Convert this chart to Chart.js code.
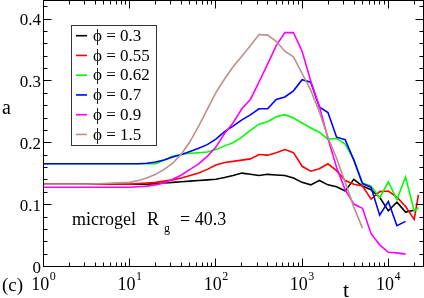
<!DOCTYPE html>
<html>
<head>
<meta charset="utf-8">
<script src="https://cdn.jsdelivr.net/npm/chart.js@4.4.0/dist/chart.umd.min.js"></script>
<style>
  html, body { margin: 0; padding: 0; background: #fff; }
  #wrap { position: relative; width: 424px; height: 298px; }
  #myChart { position: absolute; left: 0; top: 0; }
  #overlay { position: absolute; left: 0; top: 0; width: 424px; height: 298px; pointer-events: none; }
  .lbl { position: absolute; white-space: nowrap; font-family: 'Liberation Serif'; color: #000; }
  .sup { font-size: 12px; line-height: 0; position: relative; top: -10px; margin-left: 0.5px; }
</style>
</head>
<body>
<div id="wrap">
  <canvas id="myChart" width="424" height="298"></canvas>
  <div id="overlay"></div>
</div>
<script>
// Data: a(t) for several packing fractions

// time points (log spaced)
const times = [1, 3.16, 10, 12.6, 15.8, 20, 25.1, 31.6, 39.8, 50.1, 63.1, 79.4,
  100, 126, 158, 200, 251, 316, 398, 501, 631, 794,
  1000, 1259, 1585, 1995, 2512, 3162, 3981, 5012, 6310, 7943,
  10000, 12589, 15849, 19953, 22387];

const phiLabels = ['0.3', '0.55', '0.62', '0.7', '0.9', '1.5'];
const colors = ['#000000', '#ff0000', '#00ff00', '#0000ff', '#ff00ff', '#bc8f8f'];

const phi03 = [0.133, 0.133, 0.133, 0.133, 0.133, 0.134, 0.135, 0.136, 0.137, 0.138,
  0.139, 0.140, 0.141, 0.144, 0.147, 0.151, 0.149, 0.147, 0.149, 0.148,
  0.147, 0.143, 0.136, 0.132, 0.139, 0.132, 0.129, 0.122, 0.141, 0.130,
  0.124, 0.112, 0.090, 0.104, 0.088, 0.091, null];
const phi055 = [0.133, 0.133, 0.133, 0.134, 0.135, 0.136, 0.138, 0.140, 0.143, 0.147,
  0.151, 0.157, 0.164, 0.168, 0.170, 0.172, 0.174, 0.181, 0.180, 0.184,
  0.189, 0.184, 0.162, 0.154, 0.158, 0.166, 0.155, 0.139, 0.133, 0.130,
  0.109, 0.121, 0.122, 0.112, 0.097, 0.076, 0.116];
const phi062 = [0.166, 0.166, 0.166, 0.166, 0.166, 0.166, 0.172, 0.178, 0.181, 0.183,
  0.184, 0.185, 0.189, 0.195, 0.200, 0.209, 0.220, 0.230, 0.234, 0.242,
  0.2455, 0.240, 0.232, 0.224, 0.217, 0.206, 0.207, 0.198, 0.173, 0.135,
  0.130, 0.111, 0.137, 0.108, 0.145, 0.090, 0.095];
const phi07 = [0.166, 0.166, 0.166, 0.166, 0.167, 0.169, 0.172, 0.177, 0.181, 0.186,
  0.191, 0.197, 0.206, 0.218, 0.227, 0.237, 0.245, 0.255, 0.255, 0.270,
  0.274, 0.284, 0.302, 0.298, 0.258, 0.249, 0.209, 0.205, 0.172, 0.134,
  0.128, 0.083, 0.105, 0.066, 0.073, null, null];
const phi09 = [0.128, 0.128, 0.128, 0.129, 0.130, 0.132, 0.135, 0.141, 0.148, 0.157,
  0.166, 0.178, 0.193, 0.215, 0.232, 0.255, 0.270, 0.298, 0.327, 0.357,
  0.378, 0.378, 0.348, 0.300, 0.259, 0.207, 0.160, 0.124, 0.101, 0.094,
  0.053, 0.035, 0.023, 0.022, 0.020, null, null];
const phi15 = [0.133, 0.133, 0.136, 0.139, 0.143, 0.149, 0.157, 0.167, 0.182, 0.202,
  0.227, 0.254, 0.281, 0.303, 0.323, 0.340, 0.357, 0.375, 0.374, 0.364,
  0.348, 0.339, 0.312, 0.285, 0.250, 0.209, 0.175, 0.136, 0.096, 0.062,
  null, null, null, null, null, null, null];

const series = [phi03, phi055, phi062, phi07, phi09, phi15];

// axis ticks
const xTickExponents = ['0', '1', '2', '3', '4'];
const yTickValues = [0, 0.1, 0.2, 0.3, 0.4];
const yTickLabels = ['0', '0.1', '0.2', '0.3', '0.4'];

// legend rows
const legendTop = 35.7;
const legendStep = 19.75;

const datasets = series.map((vals, i) => ({
  label: '\u03d5 = ' + phiLabels[i],
  data: times.map((t, k) => ({ x: t, y: vals[k] })),
  borderColor: colors[i],
  backgroundColor: colors[i],
  borderWidth: 1.6,
  pointRadius: 0,
  tension: 0,
  fill: false,
  order: series.length - i
}));

// frame, inward ticks, legend box and samples (text goes in the overlay)
const decorations = {
  id: 'decorations',
  afterDraw(chart) {
    const ctx = chart.ctx;
    const ca = chart.chartArea;
    const x = chart.scales.x;
    const y = chart.scales.y;
    ctx.save();
    ctx.strokeStyle = '#000';
    ctx.lineWidth = 1;
    ctx.strokeRect(ca.left, ca.top, ca.right - ca.left, ca.bottom - ca.top);

    ctx.beginPath();
    for (let d = 0; d <= 4; d++) {
      for (let m = 1; m <= 9; m++) {
        const v = m * Math.pow(10, d);
        if (v > x.max) break;
        const px = Math.floor(x.getPixelForValue(v)) + 0.5;
        const len = m === 1 ? 8 : 4;
        ctx.moveTo(px, ca.bottom); ctx.lineTo(px, ca.bottom - len);
        ctx.moveTo(px, ca.top); ctx.lineTo(px, ca.top + len);
      }
    }
    for (let k = 0; k <= 21; k++) {
      const py = Math.floor(y.getPixelForValue(k * 0.02)) + 0.5;
      const len = k % 5 === 0 ? 8 : 4;
      ctx.moveTo(ca.left, py); ctx.lineTo(ca.left + len, py);
      ctx.moveTo(ca.right, py); ctx.lineTo(ca.right - len, py);
    }
    ctx.stroke();

    // legend box
    ctx.fillStyle = '#fff';
    ctx.fillRect(71.5, 25.5, 85, 120);
    ctx.strokeStyle = '#333';
    ctx.strokeRect(71.5, 25.5, 85, 120);
    chart.data.datasets.forEach((ds, i) => {
      const ry = legendTop + i * legendStep;
      ctx.strokeStyle = ds.borderColor;
      ctx.lineWidth = 1.6;
      ctx.beginPath();
      ctx.moveTo(76, ry); ctx.lineTo(87, ry);
      ctx.stroke();
    });
    ctx.restore();
  }
};

const config = {
  type: 'line',
  data: { datasets: datasets },
  options: {
    responsive: false,
    animation: false,
    layout: { padding: { top: 0.5, right: 0.5, left: 0, bottom: 0 } },
    plugins: { legend: { display: false }, tooltip: { enabled: false } },
    scales: {
      x: {
        type: 'logarithmic',
        min: 1,
        max: 25600,
        grid: { display: false },
        border: { display: false },
        ticks: { display: false },
        afterFit: s => { s.height = 31.5; }
      },
      y: {
        min: 0,
        max: 0.43,
        grid: { display: false },
        border: { display: false },
        ticks: { display: false },
        afterFit: s => { s.width = 43.5; }
      }
    }
  },
  plugins: [decorations]
};

const myChart = new Chart(document.getElementById('myChart'), config);

// text labels as real text on top of the canvas
const overlay = document.getElementById('overlay');

// place text so its baseline sits at the given y (Liberation Serif, line-height = size)
function addText(text, left, baseline, size) {
  const el = document.createElement('div');
  el.className = 'lbl';
  el.textContent = text;
  el.style.fontSize = size + 'px';
  el.style.lineHeight = size + 'px';
  el.style.top = (baseline - 0.8375 * size) + 'px';
  el.style.left = left + 'px';
  overlay.appendChild(el);
  return el;
}

const xs = myChart.scales.x;
const ys = myChart.scales.y;

// y tick labels, right aligned at x = 41
yTickValues.forEach((v, i) => {
  const el = addText(yTickLabels[i], 0, ys.getPixelForValue(v) + 6.5, 17);
  el.style.left = 'auto';
  el.style.right = (424 - 41) + 'px';
});

// x tick labels 10^n, centred on the decade ticks
xTickExponents.forEach(e => {
  const el = addText('10', xs.getPixelForValue(Math.pow(10, +e)), 290, 18);
  el.style.transform = 'translateX(-50%)';
  const sup = document.createElement('span');
  sup.className = 'sup';
  sup.textContent = e;
  el.appendChild(sup);
});

// axis titles and panel tag
addText('a', 2, 114, 20);
addText('t', 343, 297, 22);
addText('(c)', 2, 291, 19);

// annotation
addText('microgel', 72, 225, 18);
addText('R', 147, 225, 18);
addText('g', 164, 232, 12);
addText('= 40.3', 180, 225, 18);

// legend labels
myChart.data.datasets.forEach((ds, i) => {
  addText(ds.label, 93, legendTop + i * legendStep + 5.5, 17);
});
</script>
</body>
</html>
